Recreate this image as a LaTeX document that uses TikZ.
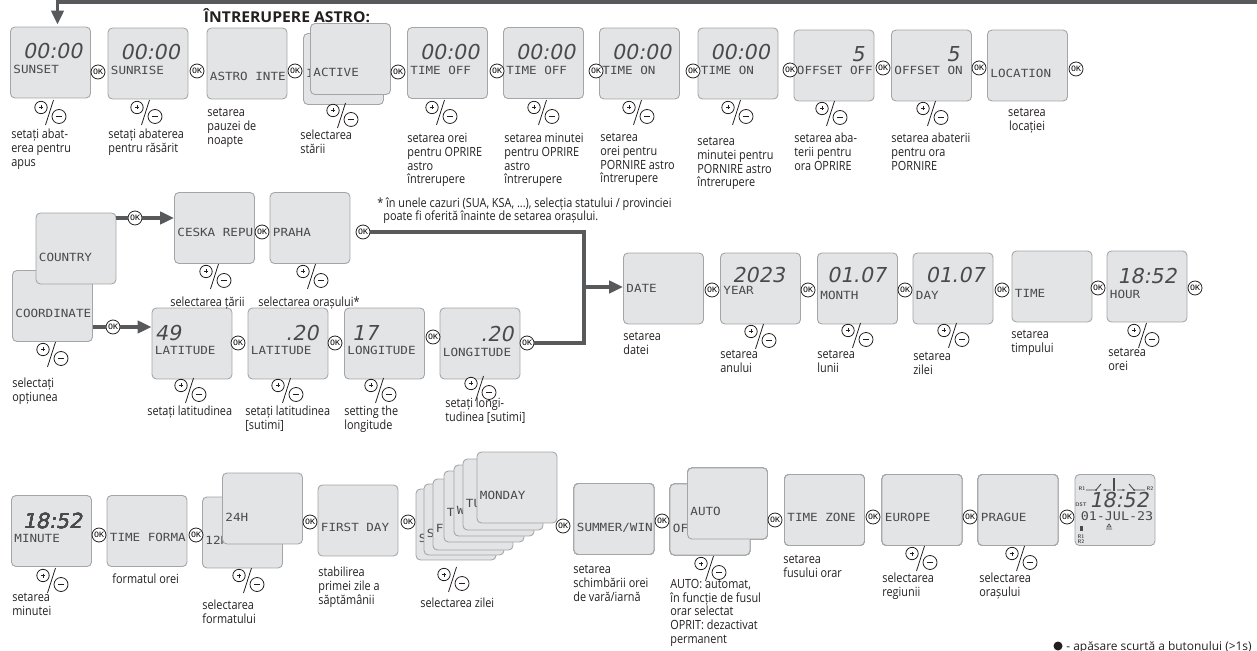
\documentclass[tikz,border=0pt]{standalone}
\usepackage{fontspec}
\setmainfont[FakeStretch=0.86]{Open Sans}
\newfontfamily\titlefont[FakeStretch=1.05]{Open Sans}
\newfontfamily\notefont{Open Sans}
\newfontfamily\lcdfont[FakeStretch=1.12]{DejaVu Sans Mono}
\newfontfamily\segfont[FakeSlant=0.2]{DejaVu Sans}
\usepackage{tikz}
\usetikzlibrary{arrows.meta,calc}
\definecolor{screenfill}{HTML}{E3E4E5}
\definecolor{screenedge}{HTML}{A3A5A8}
\definecolor{lcdink}{HTML}{4A4A4C}
\definecolor{flowgray}{HTML}{58595B}
\definecolor{textblack}{HTML}{231F20}
\tikzset{
  screen/.style={draw=screenedge,fill=screenfill,line width=0.5pt,rounded corners=2.5pt,
    minimum width=1.6cm,minimum height=1.42cm,inner sep=0pt},
  lcdlabel/.style={anchor=west,inner sep=0pt,text=lcdink,font=\lcdfont\fontsize{6.4}{6.4}\selectfont},
  lcddig/.style={inner sep=0pt,text=lcdink,font=\segfont\fontsize{11.7}{11.7}\selectfont},
  tinylcd/.style={inner sep=0pt,text=lcdink,align=center,font=\sffamily\bfseries\fontsize{3}{3.2}\selectfont},
  okb/.style={circle,draw=textblack,fill=white,line width=0.45pt,minimum size=0.28cm,inner sep=0pt,
    font=\lcdfont\fontsize{4.2}{4.2}\selectfont},
  captxt/.style={anchor=north west,inner sep=0pt,align=left,text=textblack,font=\fontsize{7.2}{7.8}\selectfont},
  flow/.style={draw=flowgray,line width=2pt},
  pm/.pic={
    \draw[textblack,line width=0.45pt,fill=white] (-9,-4.5) circle (6.2);
    \draw[textblack,line width=0.4pt] (-11,-4.5) -- (-7,-4.5) (-9,-6.5) -- (-9,-2.5);
    \draw[textblack,line width=0.45pt] (-4.5,13) -- (3.5,-12);
    \draw[textblack,line width=0.45pt] (9,4.5) circle (7);
    \draw[textblack,line width=0.8pt] (5.8,4.5) -- (12.2,4.5);
  }
}
\newcommand\screenbox[4][7]{%
  \node[screen] (#2) at (#3) {};
  \node[lcdlabel] (#2-l) at ($(#2.west)+(3,#1)$) {#4};
}

\begin{document}
\begin{tikzpicture}[x=0.02cm,y=-0.02cm,>={Triangle[length=8pt,width=7pt]}]
  \useasboundingbox (0,0) rectangle (1257,651);
  % row 1: astro pause settings (pixel grid, y downwards)
  \node[inner sep=0pt,text=textblack,font=\titlefont\bfseries\fontsize{8.5}{8.5}\selectfont] (title) at (287,16) {ÎNTRERUPERE ASTRO:};
  \screenbox{sunset}{50.5,62.5}{SUNSET}
  \screenbox{sunrise}{148,63.5}{SUNRISE}
  \screenbox[13]{astro}{247,63.5}{ASTRO INTE}
  \screenbox[4]{activeb}{343.5,69}{I}
  \screenbox[13]{active}{350.5,59}{ACTIVE}
  \screenbox{offh}{447.5,63}{TIME OFF}
  \screenbox{offm}{543.5,63}{TIME OFF}
  \screenbox{onh}{639.5,63.5}{TIME ON}
  \screenbox{onm}{738,63.5}{TIME ON}
  \screenbox[5]{offsoff}{834,65.5}{OFFSET OFF}
  \screenbox[5]{offson}{931.5,65.5}{OFFSET ON}
  \screenbox[8]{loc}{1027.5,65.5}{LOCATION}
  \foreach \n in {sunset,sunrise,offh,offm,onh,onm}
    \node[lcddig] (\n-d) at ($(\n)+(2,-11)$) {00:00};
  \node[lcddig] (offsoff-d) at ($(offsoff)+(24,-11)$) {5};
  \node[lcddig] (offson-d) at ($(offson)+(21.5,-11)$) {5};

  % row 2: location and date
  \screenbox{coord}{52.5,306}{COORDINATE}
  \screenbox[8.5]{country}{76,248.5}{COUNTRY}
  \screenbox[4]{ceska}{214.5,228}{CESKA REPU}
  \screenbox[4]{praha}{310,228}{PRAHA}
  \screenbox{latd}{192,343.5}{LATITUDE}
  \screenbox{latc}{288,343.5}{LATITUDE}
  \screenbox{lond}{384.5,343.5}{LONGITUDE}
  \screenbox[9]{lonc}{480,343.5}{LONGITUDE}
  \screenbox[0]{date}{663.5,288.5}{DATE}
  \screenbox[2]{year}{760.5,288.5}{YEAR}
  \screenbox{month}{857.5,288.5}{MONTH}
  \screenbox{day}{953,288.5}{DAY}
  \screenbox{time}{1052,286.5}{TIME}
  \screenbox[8]{hour}{1147,286.5}{HOUR}
  \node[lcddig] (latd-d) at ($(latd)+(-24,-10)$) {49};
  \node[lcddig] (latc-d) at ($(latc)+(14,-10)$) {.20};
  \node[lcddig] (lond-d) at ($(lond)+(-19.5,-10)$) {17};
  \node[lcddig] (lonc-d) at ($(lonc)+(17,-9)$) {.20};
  \node[lcddig] (year-d) at ($(year)+(-2,-13)$) {2023};
  \node[lcddig] (month-d) at ($(month)+(-1,-13)$) {01.07};
  \node[lcddig] (day-d) at ($(day)+(2,-13)$) {01.07};
  \node[lcddig] (hour-d) at ($(hour)+(0,-10.5)$) {18:52};

  % row 3: time format, week, summer time, zone
  \screenbox{minute}{51.5,531}{MINUTE}
  \screenbox[6]{tform}{147,531}{TIME FORMA}
  \screenbox[7.5]{fmt12}{242.5,532.5}{12H}
  \screenbox[8.5]{fmt24}{262.5,508.5}{24H}
  \screenbox[6.5]{firstday}{358,520.5}{FIRST DAY}
  \foreach \n/\x/\y/\t/\o in {1/456/524.5/S/13.5,2/464/519.5/S/13.5,3/473/514.5/F/13.5,
      4/484/506.5/T/5.5,5/494/500.5/W/9.5,6/503/494.5/TU/8.5,7/517/487.5/MONDAY/7.5}
    \screenbox[\o]{wd\n}{\x,\y}{\t}
  \screenbox[9]{summer}{614,519}{SUMMER/WIN}
  \screenbox[8.5]{dstoff}{710,519.5}{OFF}
  \screenbox[7.5]{dstauto}{727.5,503.5}{AUTO}
  \screenbox{tzone}{824.5,510}{TIME ZONE}
  \screenbox{europe}{922,510}{EUROPE}
  \screenbox{prague}{1018,510}{PRAGUE}
  \node[lcddig] (minute-d) at ($(minute)+(1,-9.5)$) {18:52};
  \node[screen] (home) at (1115,510) {};
  \node[tinylcd] (home-r1) at (1082,489) {R1};
  \node[tinylcd] (home-r2) at (1150,489) {R2};
  \draw[lcdink,line width=0.5pt] (1086,490) -- (1096,490) -- (1101,484)
    (1103,490) -- (1111,490) (1117,490) -- (1125,490) (1129,484) -- (1134,490) -- (1145,490);
  \draw[lcdink,line width=1pt] (1114,478) -- (1114,491);
  \fill[lcdink] (1096,490) circle (1) (1105,490) circle (1) (1123,490) circle (1) (1134,490) circle (1);
  \node[lcddig] (home-t) at (1119,500) {18:52};
  \node[lcdlabel,anchor=center,font=\lcdfont\fontsize{6.8}{6.8}\selectfont] (home-date) at (1117,516) {01-JUL-23};
  \node[tinylcd] (home-dst) at (1081,505) {DST};
  \fill[lcdink] (1080,526) rectangle (1083,531);
  \node[tinylcd] (home-rr) at (1081,539) {R1\\R2};
  \draw[lcdink,line width=0.4pt] (1106,529) -- (1112,529) (1107,527) -- (1109,524) -- (1111,527) -- cycle;

  % OK buttons
  \foreach \n/\x/\y in {a1/98/72,a2/197/71,a3/295/71,a4/398/72,a5/497/71,a6/596/71,a7/693/71,
      a8/790/70,a9/883/68,a10/979/68,a11/1076/69,
      b1/135/218,b2/113/327,b3/262/232,b4/363/232,b5/238/343,b6/335/343,b7/433/337,b8/527/343,
      b9/712/290,b10/808/290,b11/905/290,b12/1002/290,b13/1098/288,b14/1195/288,
      c1/99/535,c2/196/535,c3/310/522,c4/408/522,c5/563/526,c6/662/521,c7/775/520,c8/873/517,
      c9/970/517,c10/1067/517}
    \node[okb] (\n) at (\x,\y) {OK};

  % +/- buttons
  \foreach \x/\y in {50/112,146/112,342/115,441/112,543/112,638/112,737/112,831/113,932/113,
      52/354,215/276,312/276,190/390,287/390,380/390,480/388,760/336,857/335,953/335,1143/335,
      52/580,248/580,453/579,710/568,921/558,1021/558}
    \pic at (\x,\y) {pm};

  % flow lines
  \coordinate (feed) at (1257,2);
  \draw[flow,->] (feed) -| ($(sunset.north)+(7,-2)$);
  \draw[flow] (b1.west -| country.east) -- (b1.west);
  \draw[flow,->] (b1.east) -- (b1.east -| ceska.west);
  \draw[flow] (b2.west -| coord.east) -- (b2.west);
  \draw[flow,->] (b2.east) -- (b2.east -| latd.west);
  \coordinate (merge) at (584,287);
  \draw[flow] (b4.east) -| (merge);
  \draw[flow] (b8.east) -| (merge);
  \draw[flow,->] (merge) -- (merge -| date.west);

  % captions
  \node[captxt] (c-sunset) at (11,129) {setați abat-\\erea pentru\\apus};
  \node[captxt] (c-sunrise) at (108,129) {setați abaterea\\pentru răsărit};
  \node[captxt] (c-astro) at (207,108) {setarea\\pauzei de\\noapte};
  \node[captxt] (c-active) at (300,130) {selectarea\\stării};
  \node[captxt] (c-offh) at (407,133) {setarea orei\\pentru OPRIRE\\astro\\întrerupere};
  \node[captxt] (c-offm) at (504,133) {setarea minutei\\pentru OPRIRE\\astro\\întrerupere};
  \node[captxt] (c-onh) at (600,133) {setarea\\orei pentru\\PORNIRE astro\\întrerupere};
  \node[captxt] (c-onm) at (697,137) {setarea\\minutei pentru\\PORNIRE astro\\întrerupere};
  \node[captxt] (c-offsoff) at (794,133) {setarea aba-\\terii pentru\\ora OPRIRE};
  \node[captxt] (c-offson) at (891,133) {setarea abaterii\\pentru ora\\PORNIRE};
  \node[captxt,anchor=north,align=center] (c-loc) at (1027,108) {setarea\\locației};
  \node[captxt] (note) at (377,197) {* în unele cazuri (SUA, KSA, ...), selecția statului / provinciei\\
    \hspace*{3.4pt}poate fi oferită înainte de setarea orașului.};
  \node[captxt] (c-coord) at (12,378) {selectați\\opțiunea};
  \node[captxt] (c-ceska) at (170,297) {selectarea țării};
  \node[captxt] (c-praha) at (258,297) {selectarea orașului*};
  \node[captxt] (c-latd) at (147,406) {setați latitudinea};
  \node[captxt] (c-latc) at (245,406) {setați latitudinea\\{[sutimi]}};
  \node[captxt] (c-lond) at (344,406) {setting the\\longitude};
  \node[captxt] (c-lonc) at (445,398) {setați longi-\\tudinea [sutimi]};
  \node[captxt] (c-date) at (623,332) {setarea\\datei};
  \node[captxt] (c-year) at (720,350) {setarea\\anului};
  \node[captxt] (c-month) at (817,350) {setarea\\lunii};
  \node[captxt] (c-day) at (913,352) {setarea\\zilei};
  \node[captxt] (c-time) at (1011,330) {setarea\\timpului};
  \node[captxt] (c-hour) at (1108,348) {setarea\\orei};
  \node[captxt] (c-minute) at (12,593) {setarea\\minutei};
  \node[captxt] (c-tform) at (112,573) {formatul orei};
  \node[captxt] (c-fmt) at (202,600) {selectarea\\formatului};
  \node[captxt] (c-firstday) at (318,567) {stabilirea\\primei zile a\\săptămânii};
  \node[captxt] (c-wd) at (420,598) {selectarea zilei};
  \node[captxt] (c-summer) at (573,565) {setarea\\schimbării orei\\de vară/iarnă};
  \node[captxt] (c-dst) at (670,579) {AUTO: automat,\\în funcție de fusul\\orar selectat\\OPRIT: dezactivat\\permanent};
  \node[captxt] (c-tzone) at (783,555) {setarea\\fusului orar};
  \node[captxt] (c-europe) at (882,573) {selectarea\\regiunii};
  \node[captxt] (c-prague) at (979,573) {selectarea\\orașului};

  % legend
  \fill[textblack] (1058,646) circle (4.5);
  \node[captxt,anchor=west,font=\notefont\fontsize{6.8}{7.8}\selectfont] (legend) at (1066,647) {- apăsare scurtă a butonului (>1s)};
\end{tikzpicture}
\end{document}
